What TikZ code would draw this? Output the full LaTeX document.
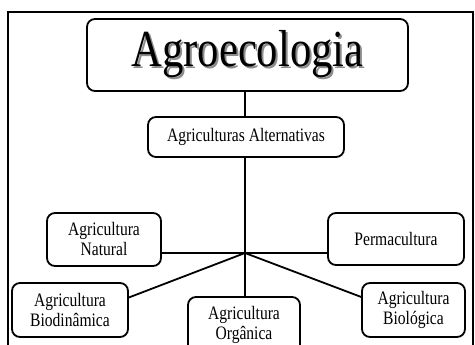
\documentclass[tikz,border=0pt]{standalone}
\usepackage{fontspec}
\setmainfont{Liberation Serif}[FakeStretch=0.82]
\usepackage{tikz}
\usetikzlibrary{calc}

\newcommand{\shadowed}[1]{{\color{black!45}\rlap{\hspace{2pt}\raisebox{-2pt}{#1}}}#1}

\begin{document}
\begin{tikzpicture}[x=1pt, y=-1pt, line width=1.8pt,
    every node/.style={draw, rounded corners=8pt, align=center, inner sep=0pt,
      font=\fontsize{19}{20}\selectfont}]
    \useasboundingbox (0,0) rectangle (475,345);
    \begin{scope}
    \clip (0,0) rectangle (475,345);
    \draw (8,360) -- (8,12) -- (473,12) -- (473,360);

    % top
    \node[minimum width=321pt, minimum height=72pt, font=\fontsize{52}{52}\selectfont] (agro) at (247.5,55) {\shadowed{Agroecologia}};
    \node[minimum width=196pt, minimum height=40pt] (alt) at (246,137) {Agriculturas Alternativas};
    \coordinate (hub) at (245,253);

    % branches
    \node[minimum width=114pt, minimum height=53pt] (nat) at (104,239.5) {Agricultura\\Natural};
    \node[minimum width=136pt, minimum height=52pt] (perm) at (396,239) {Permacultura};
    \node[minimum width=116pt, minimum height=54pt] (bdin) at (70,310) {Agricultura\\Biodinâmica};
    \node[minimum width=103pt, minimum height=54pt] (biol) at (413.5,310) {Agricultura\\Biológica};
    \node[minimum width=112pt, minimum height=56pt] (org) at (244,325) {Agricultura\\Orgânica};

    \draw (agro.south -| hub) -- (alt.north -| hub);
    \draw (alt.south -| hub) -- (hub) -- (org.north -| hub);
    \draw (nat.east |- hub) -- (hub) -- (perm.west |- hub);
    \draw (bdin.12) -- (hub) -- (biol.166);
    \end{scope}
\end{tikzpicture}
\end{document}
